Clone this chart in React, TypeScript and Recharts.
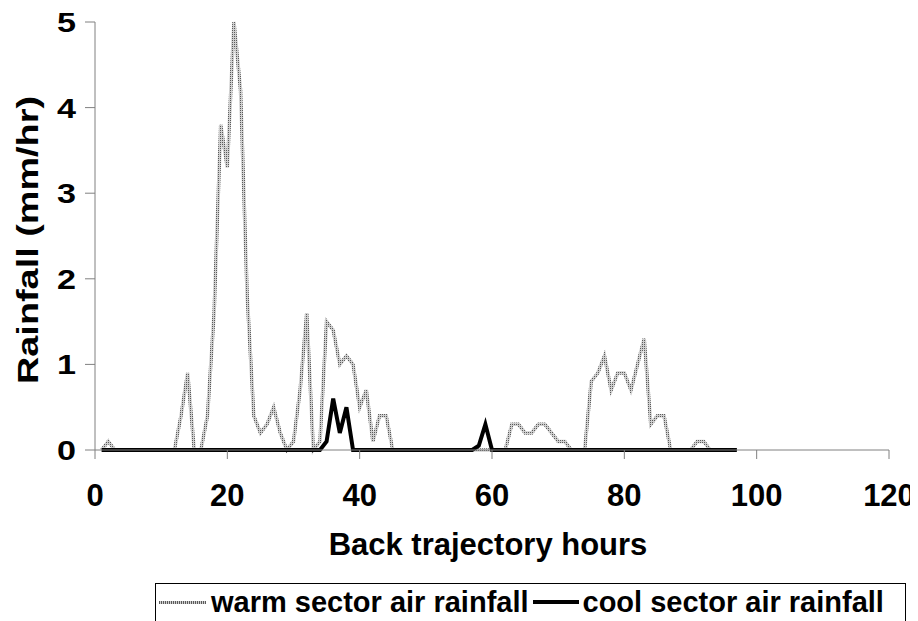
import React from 'react';
import { LineChart, Line, XAxis, YAxis } from 'recharts';

const hours = [
  1, 2, 3, 4, 5, 6, 7, 8, 9, 10, 11, 12, 13, 14, 15, 16, 17, 18, 19, 20,
  21, 22, 23, 24, 25, 26, 27, 28, 29, 30, 31, 32, 33, 34, 35, 36, 37, 38, 39, 40,
  41, 42, 43, 44, 45, 46, 47, 48, 49, 50, 51, 52, 53, 54, 55, 56, 57, 58, 59, 60,
  61, 62, 63, 64, 65, 66, 67, 68, 69, 70, 71, 72, 73, 74, 75, 76, 77, 78, 79, 80,
  81, 82, 83, 84, 85, 86, 87, 88, 89, 90, 91, 92, 93, 94, 95, 96, 97,
];

const warmRainfall = [
  0, 0.1, 0, 0, 0, 0, 0, 0, 0, 0, 0, 0, 0.4, 0.9, 0, 0, 0.4, 1.6, 3.8, 3.3,
  5.0, 4.2, 1.8, 0.4, 0.2, 0.3, 0.5, 0.2, 0, 0.1, 0.7, 1.6, 0, 0.1, 1.5, 1.4, 1.0, 1.1, 1.0, 0.5,
  0.7, 0.1, 0.4, 0.4, 0, 0, 0, 0, 0, 0, 0, 0, 0, 0, 0, 0, 0, 0, 0, 0,
  0, 0, 0.3, 0.3, 0.2, 0.2, 0.3, 0.3, 0.2, 0.1, 0.1, 0, 0, 0, 0.8, 0.9, 1.1, 0.7, 0.9, 0.9,
  0.7, 1.0, 1.3, 0.3, 0.4, 0.4, 0, 0, 0, 0, 0.1, 0.1, 0, 0, 0, 0, 0,
];

const coolRainfall = [
  0, 0, 0, 0, 0, 0, 0, 0, 0, 0, 0, 0, 0, 0, 0, 0, 0, 0, 0, 0,
  0, 0, 0, 0, 0, 0, 0, 0, 0, 0, 0, 0, 0, 0, 0.1, 0.6, 0.2, 0.5, 0, 0,
  0, 0, 0, 0, 0, 0, 0, 0, 0, 0, 0, 0, 0, 0, 0, 0, 0, 0.05, 0.3, 0,
  0, 0, 0, 0, 0, 0, 0, 0, 0, 0, 0, 0, 0, 0, 0, 0, 0, 0, 0, 0,
  0, 0, 0, 0, 0, 0, 0, 0, 0, 0, 0, 0, 0, 0, 0, 0, 0,
];

const xTicks = [0, 20, 40, 60, 80, 100, 120];
const yTicks = [0, 1, 2, 3, 4, 5];

const seriesNames = ['warm sector air rainfall', 'cool sector air rainfall'];
const xTitle = 'Back trajectory hours';
const yTitle = 'Rainfall (mm/hr)';

const data = hours.map((h, i) => ({ hour: h, warm: warmRainfall[i], cool: coolRainfall[i] }));

const FONT = '"Liberation Sans", Arial, sans-serif';
const AXIS_GRAY = '#808080';

const XTick = (props: any) => {
  const { x, y, payload } = props;
  return (
    <text x={x} y={y + 45} textAnchor="middle" fontFamily={FONT} fontWeight="bold" fontSize={31} fill="#000">
      {payload.value}
    </text>
  );
};

const YTick = (props: any) => {
  const { x, y, payload } = props;
  return (
    <text
      x={x}
      y={y + 10}
      textAnchor="end"
      fontFamily={FONT}
      fontWeight="bold"
      fontSize={28}
      fill="#000"
      textLength={19}
      lengthAdjust="spacingAndGlyphs"
    >
      {payload.value}
    </text>
  );
};

const XTitle = (props: any) => {
  const vb = props.viewBox || { x: 87, y: 442, width: 794, height: 171 };
  return (
    <text
      x={vb.x + vb.width / 2 - 4}
      y={vb.y + 105}
      textAnchor="middle"
      fontFamily={FONT}
      fontWeight="bold"
      fontSize={31}
      fill="#000"
    >
      {xTitle}
    </text>
  );
};

const YTitle = (props: any) => {
  const vb = props.viewBox || { x: 0, y: 14, width: 87, height: 428 };
  const cx = vb.x + 19.5;
  const cy = vb.y + vb.height / 2 + 4;
  return (
    <text
      x={cx}
      y={cy}
      transform={`rotate(-90, ${cx}, ${cy})`}
      textAnchor="middle"
      dominantBaseline="central"
      fontFamily={FONT}
      fontWeight="bold"
      fontSize={30}
      fill="#000"
      textLength={288}
      lengthAdjust="spacingAndGlyphs"
    >
      {yTitle}
    </text>
  );
};

export default function App() {
  return (
    <div style={{ position: 'relative', width: 910, height: 613, overflow: 'hidden', background: '#fff' }}>
      <LineChart width={910} height={613} data={data} margin={{ top: 14, right: 29, left: 0, bottom: 0 }}>
        <defs>
          <pattern id="warmDots" width="2" height="2" patternUnits="userSpaceOnUse">
            <rect x="0" y="0" width="2" height="2" fill="#cfcfcf" />
            <rect x="0" y="0" width="1" height="1" fill="#5a5a5a" />
          </pattern>
        </defs>
        <XAxis
          dataKey="hour"
          type="number"
          domain={[0, 120]}
          ticks={xTicks}
          interval={0}
          height={171}
          tickSize={9}
          tickMargin={2}
          axisLine={{ stroke: AXIS_GRAY, strokeWidth: 1 }}
          tickLine={{ stroke: AXIS_GRAY, strokeWidth: 1 }}
          tick={<XTick />}
          label={(p: any) => <XTitle {...p} />}
        />
        <YAxis
          type="number"
          domain={[0, 5]}
          ticks={yTicks}
          interval={0}
          width={87}
          tickSize={10}
          tickMargin={9}
          axisLine={{ stroke: AXIS_GRAY, strokeWidth: 1 }}
          tickLine={{ stroke: AXIS_GRAY, strokeWidth: 1 }}
          tick={<YTick />}
          label={(p: any) => <YTitle {...p} />}
        />
        <Line
          type="linear"
          dataKey="warm"
          name={seriesNames[0]}
          stroke="url(#warmDots)"
          strokeWidth={3.5}
          dot={false}
          activeDot={false}
          isAnimationActive={false}
        />
        <Line
          type="linear"
          dataKey="cool"
          name={seriesNames[1]}
          stroke="#000"
          strokeWidth={4}
          dot={false}
          activeDot={false}
          isAnimationActive={false}
        />
      </LineChart>
      <div
        style={{
          position: 'absolute',
          left: 147,
          top: 575,
          width: 751,
          height: 44,
          border: '1px solid #000',
          boxSizing: 'border-box',
          display: 'flex',
          alignItems: 'flex-start',
          fontFamily: FONT,
          fontWeight: 'bold',
          fontSize: 29,
          color: '#000',
        }}
      >
        <div style={{ display: 'flex', alignItems: 'center', height: 36 }}>
          <div
            style={{
              width: 47,
              height: 3,
              marginLeft: 3,
              marginRight: 5,
              background: 'repeating-linear-gradient(90deg, #5a5a5a 0px, #5a5a5a 1px, #cfcfcf 1px, #cfcfcf 2px)',
            }}
          />
          <span style={{ whiteSpace: 'nowrap', lineHeight: 'normal' }}>{seriesNames[0]}</span>
          <div style={{ width: 46, height: 4, background: '#000', marginLeft: 4, marginRight: 4 }} />
          <span style={{ whiteSpace: 'nowrap', lineHeight: 'normal' }}>{seriesNames[1]}</span>
        </div>
      </div>
    </div>
  );
}
